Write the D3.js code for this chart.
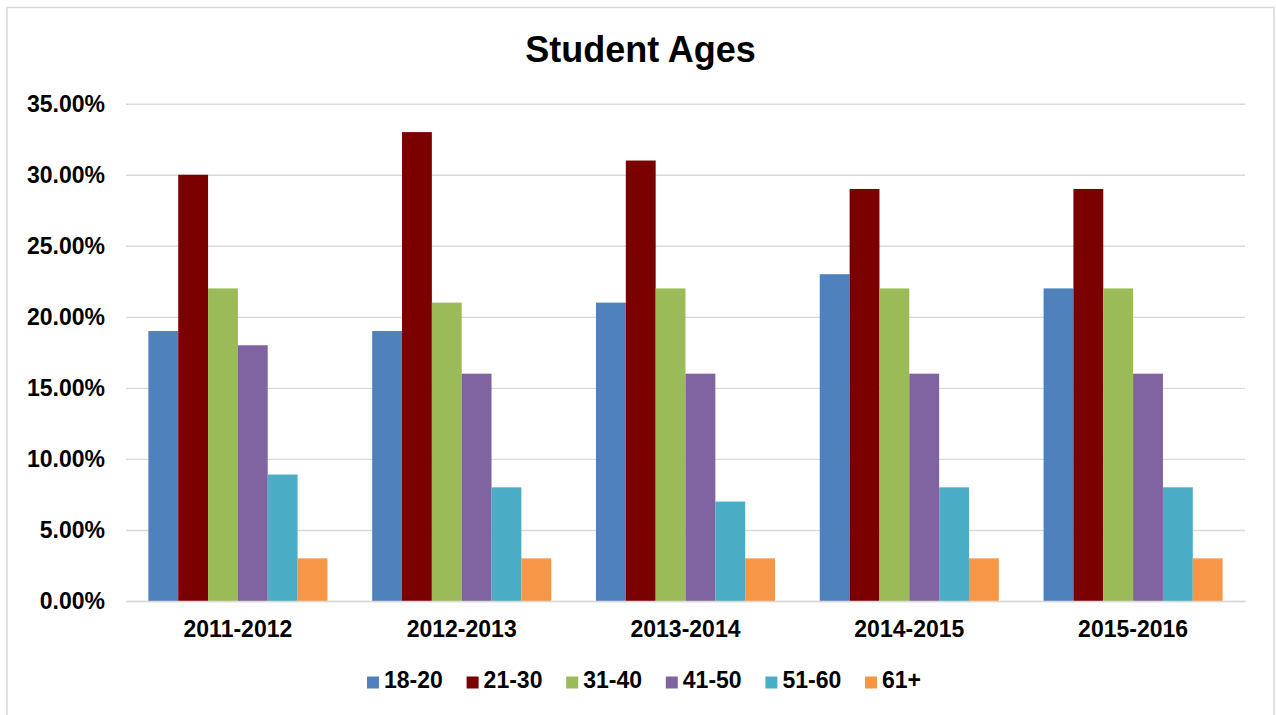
<!DOCTYPE html>
<html>
<head>
<meta charset="utf-8">
<script src="https://cdn.jsdelivr.net/npm/d3@7"></script>
<style>
  html, body { margin: 0; padding: 0; background: #ffffff; }
  svg { display: block; }
  text { font-family: "Liberation Sans", Arial, sans-serif; font-weight: bold; fill: #000; }
</style>
</head>
<body>
<svg id="chart" width="1276" height="715"></svg>
<script>
// School years shown along the x axis
const years = ["2011-2012", "2012-2013", "2013-2014", "2014-2015", "2015-2016"];
// Age groups (one bar each per year)
const ageGroups = ["18-20", "21-30", "31-40", "41-50", "51-60", "61+"];
const groupColors = ["#4F81BD", "#7B0000", "#9BBB59", "#8064A2", "#4BACC6", "#F79646"];
// Share of students per age group, one array per year
const share2011 = [0.19, 0.30, 0.22, 0.18, 0.089, 0.03];
const share2012 = [0.19, 0.33, 0.21, 0.16, 0.08, 0.03];
const share2013 = [0.21, 0.31, 0.22, 0.16, 0.07, 0.03];
const share2014 = [0.23, 0.29, 0.22, 0.16, 0.08, 0.03];
const share2015 = [0.22, 0.29, 0.22, 0.16, 0.08, 0.03];
const yTicks = [0, 0.05, 0.10, 0.15, 0.20, 0.25, 0.30, 0.35];

const shares = [share2011, share2012, share2013, share2014, share2015];
const rows = years.map((y, i) => ({
  year: y,
  values: ageGroups.map((g, j) => ({ group: g, value: shares[i][j] }))
}));

const svg = d3.select("#chart");
const plot = { left: 126, right: 1245, top: 103.7, bottom: 601 };

// Chart frame
svg.append("rect")
  .attr("x", 7).attr("y", 7.5)
  .attr("width", 1267).attr("height", 730)
  .attr("fill", "#fff")
  .attr("stroke", "#d9d9d9").attr("stroke-width", 1.5);

// Title
svg.append("text")
  .attr("x", 640.5).attr("y", 62)
  .attr("text-anchor", "middle")
  .style("font-size", "36px")
  .text("Student Ages");

const x0 = d3.scaleBand()
  .domain(years)
  .range([plot.left, plot.right])
  .paddingInner(0.2)
  .paddingOuter(0.1);

const x1 = d3.scaleBand()
  .domain(ageGroups)
  .range([0, x0.bandwidth()])
  .padding(0);

const y = d3.scaleLinear()
  .domain([0, 0.35])
  .range([plot.bottom, plot.top]);

const color = d3.scaleOrdinal().domain(ageGroups).range(groupColors);

// Y axis with horizontal gridlines
const yAxis = svg.append("g")
  .attr("transform", `translate(${plot.left},0)`)
  .call(d3.axisLeft(y)
    .tickValues(yTicks)
    .tickFormat(d3.format(".2%"))
    .tickSizeInner(-(plot.right - plot.left))
    .tickSizeOuter(0)
    .tickPadding(21));
yAxis.select(".domain").remove();
yAxis.selectAll(".tick line").attr("stroke", "#d9d9d9").attr("stroke-width", 1.4);
yAxis.selectAll(".tick text")
  .style("font-size", "23px")
  .style("font-family", "'Liberation Sans', Arial, sans-serif")
  .style("font-weight", "bold")
  .attr("fill", "#000");

// Bars
const groups = svg.append("g").selectAll("g")
  .data(rows)
  .join("g")
  .attr("transform", d => `translate(${x0(d.year)},0)`);

groups.selectAll("rect")
  .data(d => d.values)
  .join("rect")
  .attr("x", d => x1(d.group))
  .attr("y", d => y(d.value))
  .attr("width", x1.bandwidth())
  .attr("height", d => y(0) - y(d.value))
  .attr("fill", d => color(d.group));

// X axis
const xAxis = svg.append("g")
  .attr("transform", `translate(0,${plot.bottom})`)
  .call(d3.axisBottom(x0).tickSize(0).tickPadding(20));
xAxis.select(".domain").attr("stroke", "#d9d9d9").attr("stroke-width", 1.6);
xAxis.selectAll(".tick text")
  .style("font-size", "23px")
  .style("font-family", "'Liberation Sans', Arial, sans-serif")
  .style("font-weight", "bold")
  .attr("fill", "#000");

// Legend
const legend = svg.append("g").selectAll("g")
  .data(ageGroups)
  .join("g")
  .attr("transform", (d, i) => `translate(${367 + i * 99.6},0)`);
legend.append("rect")
  .attr("x", 0).attr("y", 676.5)
  .attr("width", 12).attr("height", 12)
  .attr("fill", d => color(d));
legend.append("text")
  .attr("x", 17).attr("y", 688)
  .style("font-size", "23px")
  .text(d => d);
</script>
</body>
</html>
